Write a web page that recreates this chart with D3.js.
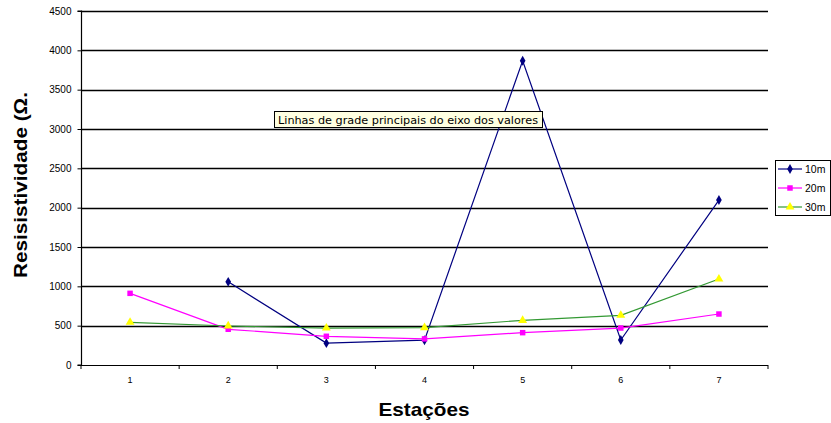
<!DOCTYPE html>
<html><head><meta charset="utf-8">
<script src="https://cdn.jsdelivr.net/npm/d3@7"></script>
<style>body{margin:0;background:#fff}svg{display:block}</style>
</head><body>
<svg id="c" width="831" height="423"></svg>
<script>
const categories = ["1","2","3","4","5","6","7"];
const s10m = [null, 1057, 278, 315, 3868, 318, 2097];
const s20m = [911, 454, 365, 332, 411, 470, 648];
const s30m = [543, 496, 470, 475, 568, 632, 1093];
const yTicks = [0,500,1000,1500,2000,2500,3000,3500,4000,4500];
const seriesNames = ["10m","20m","30m"];

const svg = d3.select("#c");
const pLeft = 81, pRight = 768, pTop = 11, pBottom = 365;
const x = d3.scaleBand().domain(categories).range([pLeft, pRight]);
const y = d3.scaleLinear().domain([0,4500]).range([pBottom, pTop]);

// gridlines
svg.append("g").selectAll("line").data(yTicks.slice(1)).join("line")
  .attr("x1", pLeft).attr("x2", pRight)
  .attr("y1", d => Math.round(y(d))+0.5).attr("y2", d => Math.round(y(d))+0.5)
  .attr("stroke", "#000").attr("stroke-width", 1.4);

// y axis
const ya = svg.append("g").attr("transform", `translate(${pLeft+0.5},0)`)
  .call(d3.axisLeft(y).tickValues(yTicks).tickSize(4).tickPadding(6).tickFormat(d3.format("d")));
ya.select(".domain").attr("stroke","#000").attr("stroke-width",1.2).attr("d", `M-4,${y(0)}H0V${y(4500)}H-4`);
ya.selectAll("text").attr("font-family","Liberation Sans, Arial").attr("font-size","10px").attr("fill","#000");

// x axis
const xa = svg.append("g").attr("transform", `translate(0,${pBottom+0.5})`)
  .call(d3.axisBottom(x).tickSize(0).tickPadding(11));
xa.select(".domain").attr("stroke","#000").attr("stroke-width",1.2).attr("d", `M${pLeft},0H${pRight}`);
xa.selectAll("text").attr("font-family","Liberation Sans, Arial").attr("font-size","9px").attr("fill","#000");
svg.append("g").selectAll("line").data(d3.range(categories.length+1)).join("line")
  .attr("x1", i => pLeft + i*x.step()).attr("x2", i => pLeft + i*x.step())
  .attr("y1", pBottom).attr("y2", pBottom+4).attr("stroke","#000");

const cx = c => x(c) + x.bandwidth()/2;
const series = [
  {name:seriesNames[0], vals:s10m, color:"#000080", mark:d3.symbolDiamond, msize:28, mfill:"#000080"},
  {name:seriesNames[1], vals:s20m, color:"#ff00ff", mark:d3.symbolSquare, msize:30, mfill:"#ff00ff"},
  {name:seriesNames[2], vals:s30m, color:"#339933", mark:d3.symbolTriangle, msize:34, mfill:"#ffff00"}
];
const line = d3.line().defined(d => d.v != null).x(d => cx(d.c)).y(d => y(d.v));
series.forEach(s => {
  const pts = categories.map((c,i) => ({c, v:s.vals[i]}));
  svg.append("path").datum(pts).attr("d", line).attr("fill","none")
    .attr("stroke", s.color).attr("stroke-width", 1.2);
});
series.forEach(s => {
  const pts = categories.map((c,i) => ({c, v:s.vals[i]})).filter(d => d.v != null);
  svg.append("g").selectAll("path").data(pts).join("path")
    .attr("d", d3.symbol().type(s.mark).size(s.msize))
    .attr("transform", d => `translate(${cx(d.c)},${y(d.v)})`)
    .attr("fill", s.mfill);
});

// legend
const lg = svg.append("g");
lg.append("rect").attr("x",775.5).attr("y",160.5).attr("width",55).attr("height",55)
  .attr("fill","#fff").attr("stroke","#000");
series.forEach((s,i) => {
  const yy = 169 + i*19;
  lg.append("line").attr("x1",778).attr("x2",802).attr("y1",yy).attr("y2",yy)
    .attr("stroke",s.color).attr("stroke-width",1.2);
  lg.append("path").attr("d", d3.symbol().type(s.mark).size(s.msize))
    .attr("transform",`translate(790,${yy})`).attr("fill",s.mfill);
  lg.append("text").attr("x",805).attr("y",yy+4).text(s.name)
    .attr("font-family","Liberation Sans, Arial").attr("font-size","10.5px");
});

// axis titles
svg.append("text").attr("transform","translate(27,185) rotate(-90)")
  .attr("text-anchor","middle").attr("font-family","Liberation Sans, Arial")
  .attr("font-weight","bold").attr("font-size","19px")
  .attr("textLength",186).attr("lengthAdjust","spacingAndGlyphs").text("Resisistividade (Ω.");
svg.append("text").attr("x",424).attr("y",416).attr("text-anchor","middle")
  .attr("font-family","Liberation Sans, Arial").attr("font-weight","bold")
  .attr("font-size","19px").attr("textLength",91).attr("lengthAdjust","spacingAndGlyphs").text("Estações");

// tooltip
const tt = svg.append("g");
tt.append("rect").attr("x",274.5).attr("y",111.5).attr("width",268).attr("height",16)
  .attr("fill","#ffffe1").attr("stroke","#000");
tt.append("text").attr("x",278).attr("y",123.5).attr("font-family","DejaVu Sans, Verdana")
  .attr("font-size","10.5px").attr("textLength",260).attr("lengthAdjust","spacingAndGlyphs")
  .text("Linhas de grade principais do eixo dos valores");
</script>
</body></html>
